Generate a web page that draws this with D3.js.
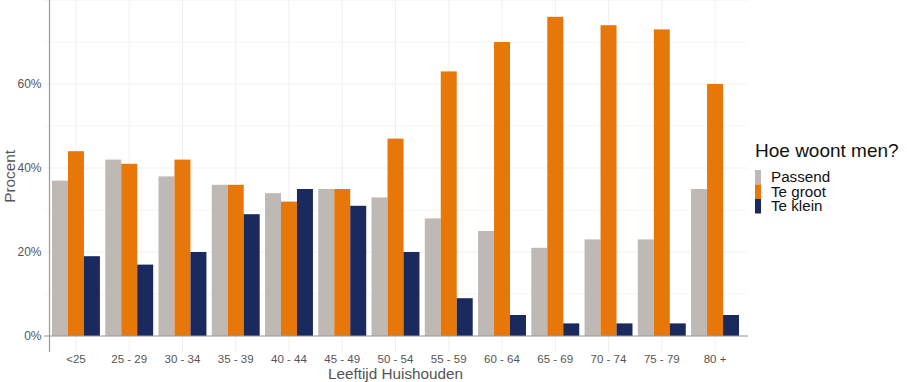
<!DOCTYPE html>
<html>
<head>
<meta charset="utf-8">
<script src="https://cdn.jsdelivr.net/npm/d3@7"></script>
<style>
  html, body { margin: 0; padding: 0; background: #fff; }
  svg { display: block; font-family: "Liberation Sans", Arial, sans-serif; }
</style>
</head>
<body>
<svg id="chart" width="907" height="382"></svg>
<script>
const categories = ["<25", "25 - 29", "30 - 34", "35 - 39", "40 - 44", "45 - 49", "50 - 54", "55 - 59", "60 - 64", "65 - 69", "70 - 74", "75 - 79", "80 +"];
const seriesNames = ["Passend", "Te groot", "Te klein"];
const passend = [37, 42, 38, 36, 34, 35, 33, 28, 25, 21, 23, 23, 35];
const teGroot = [44, 41, 42, 36, 32, 35, 47, 63, 70, 76, 74, 73, 60];
const teKlein = [19, 17, 20, 29, 35, 31, 20, 9, 5, 3, 3, 3, 5];
const yTicks = [0, 20, 40, 60];
const yMinorTicks = [10, 30, 50, 70];
const colors = ["#BEB9B5", "#E8770A", "#1B2A5E"];

const seriesValues = [passend, teGroot, teKlein];
const rows = categories.map((c, i) => ({
  cat: c,
  vals: seriesNames.map((s, j) => ({ key: s, value: seriesValues[j][i] }))
}));

const svg = d3.select("#chart");
const pLeft = 44, pRight = 747, pTop = 0.84, pBottom = 351.96;

const x = d3.scaleBand().domain(categories).range([pLeft, pRight]).paddingInner(0).paddingOuter(0.1);
const xi = d3.scaleBand().domain(seriesNames).range([0, x.bandwidth()]).paddingInner(0).paddingOuter(1/6);
const y = d3.scaleLinear().domain([-3.8, 79.8]).range([pBottom, pTop]);
const color = d3.scaleOrdinal().domain(seriesNames).range(colors);

// grid
const grid = svg.append("g");
grid.selectAll("line.minor").data(yMinorTicks).join("line")
  .attr("x1", pLeft).attr("x2", pRight)
  .attr("y1", d => y(d)).attr("y2", d => y(d))
  .attr("stroke", "#f6f6f6").attr("stroke-width", 1);
grid.selectAll("line.major").data(yTicks.concat([80])).join("line")
  .attr("x1", pLeft).attr("x2", pRight)
  .attr("y1", d => y(d)).attr("y2", d => y(d))
  .attr("stroke", "#f0f0f0").attr("stroke-width", 1);
grid.selectAll("line.v").data(categories).join("line")
  .attr("x1", d => x(d) + x.bandwidth() / 2).attr("x2", d => x(d) + x.bandwidth() / 2)
  .attr("y1", pTop).attr("y2", pBottom)
  .attr("stroke", "#f0f0f0").attr("stroke-width", 1);

// bars
const groups = svg.append("g").selectAll("g").data(rows).join("g")
  .attr("transform", d => `translate(${x(d.cat)},0)`);
groups.selectAll("rect").data(d => d.vals).join("rect")
  .attr("x", d => xi(d.key))
  .attr("width", xi.bandwidth())
  .attr("y", d => y(d.value))
  .attr("height", d => y(0) - y(d.value))
  .attr("fill", d => color(d.key));

// zero line
svg.append("line")
  .attr("x1", pLeft).attr("x2", pRight + 1)
  .attr("y1", y(0)).attr("y2", y(0))
  .attr("stroke", "#9a9a9a").attr("stroke-width", 1);

// y axis line
svg.append("line")
  .attr("x1", 49.5).attr("x2", 49.5)
  .attr("y1", 0).attr("y2", pBottom)
  .attr("stroke", "#9a9a9a").attr("stroke-width", 1.2);

// y tick labels
svg.append("g").selectAll("text").data(yTicks).join("text")
  .attr("x", 41.5).attr("y", d => y(d) + 4.3)
  .attr("text-anchor", "end")
  .attr("font-size", 12).attr("fill", "#555")
  .text(d => d + "%");

// x tick labels
svg.append("g").selectAll("text").data(categories).join("text")
  .attr("x", d => x(d) + x.bandwidth() / 2).attr("y", 362.5)
  .attr("text-anchor", "middle")
  .attr("font-size", 11.5).attr("fill", "#555")
  .text(d => d);

// axis titles
svg.append("text")
  .attr("x", (pLeft + pRight) / 2).attr("y", 378.5)
  .attr("text-anchor", "middle")
  .attr("font-size", 15.3).attr("fill", "#555")
  .text("Leeftijd Huishouden");
svg.append("text")
  .attr("transform", `translate(15,${(pTop + pBottom) / 2}) rotate(-90)`)
  .attr("text-anchor", "middle")
  .attr("font-size", 15.3).attr("fill", "#555")
  .text("Procent");

// legend
const lg = svg.append("g");
lg.append("text").attr("x", 755).attr("y", 157)
  .attr("font-size", 19).attr("fill", "#111")
  .text("Hoe woont men?");
const items = lg.selectAll("g.item").data(seriesNames).join("g")
  .attr("transform", (d, i) => `translate(755,${170 + i * 14.5})`);
items.append("rect").attr("x", 0).attr("y", 0).attr("width", 6).attr("height", 14.5)
  .attr("fill", d => color(d));
items.append("text").attr("x", 16).attr("y", 12)
  .attr("font-size", 15.2).attr("fill", "#111")
  .text(d => d);
</script>
</body>
</html>
